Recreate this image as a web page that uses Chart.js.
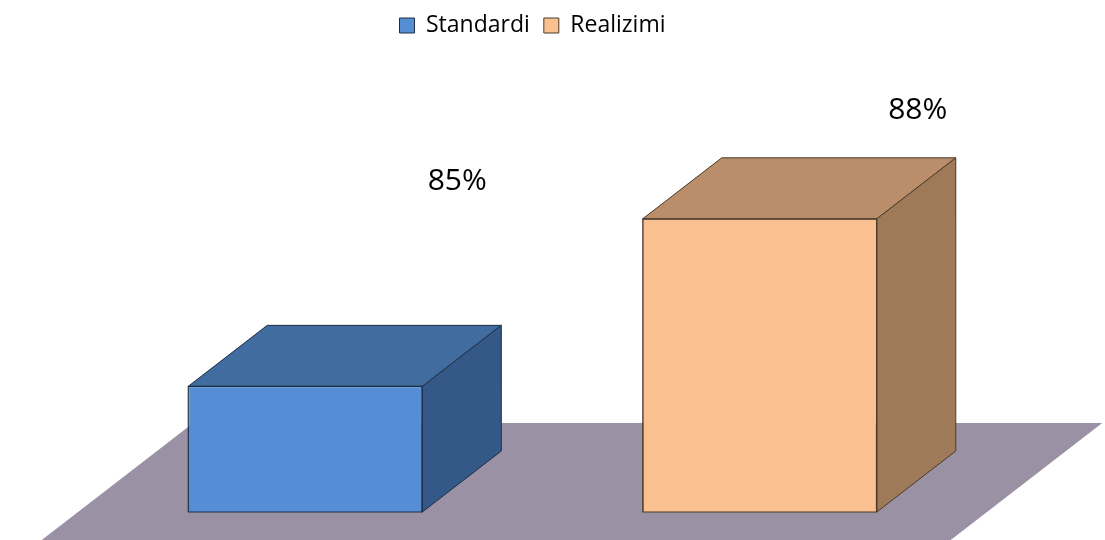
<!DOCTYPE html>
<html>
<head>
<meta charset="utf-8">
<script src="https://cdn.jsdelivr.net/npm/chart.js@4"></script>
<style>
  html, body { margin: 0; padding: 0; background: #ffffff; }
  #wrap { width: 1105px; height: 540px; }
</style>
</head>
<body>
<div id="wrap"><canvas id="chart" width="1105" height="540"></canvas></div>
<script>
// data
var categories = ['Standardi', 'Realizimi'];
var seriesNames = ['Standardi', 'Realizimi'];
var standardiValues = [85, null];
var realizimiValues = [null, 88];
var valueLabels = ['85%', '88%'];

// colours for each series: front, top, side, edge
var faceColors = [
    { front: '#558ED5', top: '#416CA0', side: '#345887', edge: '#1E2E44' },
    { front: '#FAC090', top: '#BA8E6B', side: '#9E7A59', edge: '#4A3A2A' }
];
var floorColor = '#9A91A4';
var depthX = 79, depthY = -61;   // 3d depth of the boxes
var floorExtra = 28;             // how far the floor runs past the boxes
var labelOffsets = [{ dx: 152, dy: -205 }, { dx: 158, dy: -108 }];
var legendGap = 116;             // space between legend and plot

function poly(ctx, pts, fill, stroke) {
    ctx.beginPath();
    ctx.moveTo(pts[0][0], pts[0][1]);
    for (var i = 1; i < pts.length; i++) ctx.lineTo(pts[i][0], pts[i][1]);
    ctx.closePath();
    ctx.fillStyle = fill;
    ctx.fill();
    if (stroke) {
        ctx.strokeStyle = stroke;
        ctx.lineWidth = 1;
        ctx.stroke();
    }
}

var box3d = {
    id: 'box3d',
    beforeInit: function(chart) {
        // push the plot down, keep the legend at the very top
        var fit = chart.legend.fit;
        chart.legend.fit = function() {
            fit.call(this);
            this.height += legendGap;
        };
    },
    beforeDatasetsDraw: function(chart) {
        // the grey floor under the boxes
        var ctx = chart.ctx, a = chart.chartArea;
        var fx = floorExtra * depthX / -depthY;
        var front = a.bottom + floorExtra, back = a.bottom + depthY - floorExtra;
        ctx.save();
        poly(ctx, [
            [a.left - fx, front],
            [a.right - fx, front],
            [a.right + depthX + fx, back],
            [a.left + depthX + fx, back]
        ], floorColor);
        ctx.restore();
    },
    afterDatasetsDraw: function(chart) {
        var ctx = chart.ctx, base = chart.chartArea.bottom;
        ctx.save();
        chart.data.datasets.forEach(function(ds, di) {
            var meta = chart.getDatasetMeta(di);
            var c = faceColors[di];
            meta.data.forEach(function(bar, i) {
                if (ds.data[i] === null) return;
                var p = bar.getProps(['x', 'y', 'width'], true);
                var l = p.x - p.width / 2, r = p.x + p.width / 2;
                // top face
                poly(ctx, [[l, p.y], [l + depthX, p.y + depthY], [r + depthX, p.y + depthY], [r, p.y]], c.top, c.edge);
                // side face
                poly(ctx, [[r, p.y], [r + depthX, p.y + depthY], [r + depthX, base + depthY], [r, base]], c.side, c.edge);
                // front outline
                ctx.strokeStyle = c.edge;
                ctx.lineWidth = 1;
                ctx.strokeRect(l, p.y, p.width, base - p.y);
                // value label
                var off = labelOffsets[di];
                ctx.fillStyle = '#000000';
                ctx.font = '30px "Open Sans"';
                ctx.textAlign = 'center';
                ctx.textBaseline = 'middle';
                ctx.fillText(valueLabels[di], p.x + off.dx, p.y + off.dy);
            });
        });
        ctx.restore();
    }
};

var ctx = document.getElementById('chart').getContext('2d');
new Chart(ctx, {
    type: 'bar',
    data: {
        labels: categories,
        datasets: [{
            label: seriesNames[0],
            data: standardiValues,
            backgroundColor: faceColors[0].front,
            borderColor: faceColors[0].edge,
            borderWidth: 1
        }, {
            label: seriesNames[1],
            data: realizimiValues,
            backgroundColor: faceColors[1].front,
            borderColor: faceColors[1].edge,
            borderWidth: 1
        }]
    },
    options: {
        responsive: false,
        animation: false,
        datasets: {
            bar: {
                grouped: false,
                barPercentage: 0.515,
                categoryPercentage: 1,
                borderSkipped: false
            }
        },
        layout: {
            padding: { top: 0, bottom: 28, left: 78, right: 118 }
        },
        plugins: {
            legend: {
                position: 'top',
                labels: {
                    font: { family: '"Open Sans"', size: 23 },
                    color: '#000000',
                    boxWidth: 15,
                    boxHeight: 15,
                    padding: 14
                }
            },
            tooltip: { enabled: false }
        },
        scales: {
            x: { display: false },
            y: { display: false, min: 82.75, max: 89 }
        }
    },
    plugins: [box3d]
});
</script>
</body>
</html>
